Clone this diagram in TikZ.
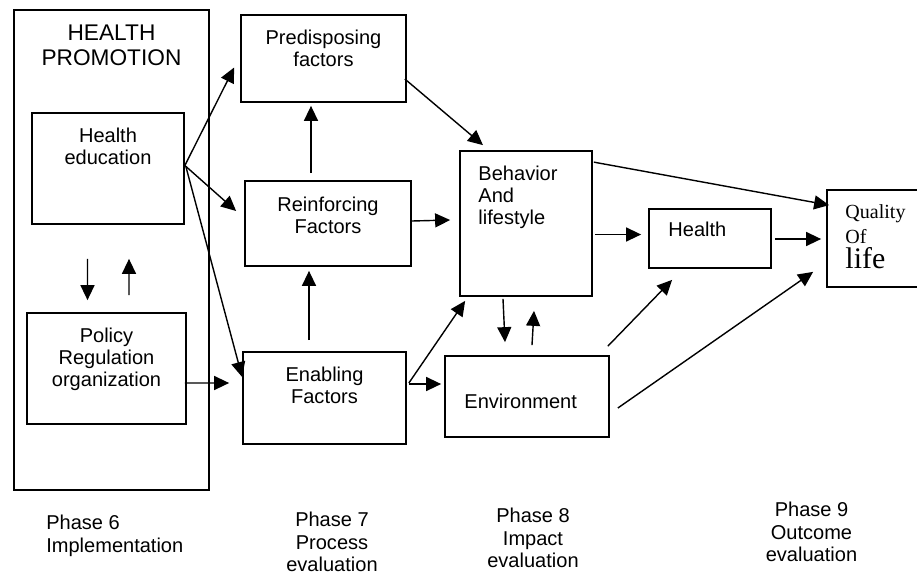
\documentclass[tikz,border=0pt]{standalone}
\usepackage{fontspec}
\setmainfont{Liberation Sans}
\newfontfamily\qualfont{Liberation Serif}
\usetikzlibrary{positioning,calc,arrows.meta}

\tikzset{
  box/.style={draw, line width=1pt, inner sep=0pt},
  txt/.style={inner sep=0pt, align=center, font=\fontsize{11.4}{12.8}\selectfont},
  arr/.style={-{Triangle[length=3mm,width=2.8mm]}, line width=0.8pt},
}

\begin{document}
\begin{tikzpicture}[x=0.02cm, y=-0.02cm]
        \useasboundingbox (0,0) rectangle (917,576);

        % boxes
        \node[box, minimum width=3.9cm, minimum height=9.6cm] (hp) at (111.5,250) {};
        \node[box, minimum width=3.04cm, minimum height=2.22cm] (he) at (108,168.5) {};
        \node[box, minimum width=3.18cm, minimum height=2.22cm] (po) at (106.5,368.5) {};
        \node[box, minimum width=3.3cm, minimum height=1.74cm] (pd) at (323.5,58.5) {};
        \node[box, minimum width=3.32cm, minimum height=1.7cm] (rf) at (328,223.5) {};
        \node[box, minimum width=3.26cm, minimum height=1.84cm] (en) at (324.5,398) {};
        \node[box, minimum width=2.64cm, minimum height=2.9cm] (bh) at (526,223.5) {};
        \node[box, minimum width=2.44cm, minimum height=1.18cm] (hl) at (710,238.5) {};
        \node[box, minimum width=3.28cm, minimum height=1.62cm] (ev) at (527,396.5) {};
        \node[box, minimum width=1.86cm, minimum height=1.94cm] (ql) at (873.5,238.5) {};

        % texts in the boxes
        \node[txt, font=\fontsize{12.9}{14.7}\selectfont, below=0.3cm of hp.north] (hpt) {HEALTH\\PROMOTION};
        \node[txt, below=0.3cm of he.north] (het) {Health\\education};
        \node[txt, below=0.3cm of po.north] (pot) {Policy\\Regulation\\organization};
        \node[txt, below=0.3cm of pd.north] (pdt) {Predisposing\\factors};
        \node[txt, below=0.32cm of rf.north] (rft) {Reinforcing\\Factors};
        \node[txt, below=0.3cm of en.north] (ent) {Enabling\\Factors};
        \node[txt, align=left, below right=0.3cm and 0.38cm of bh.north west] (bht) {Behavior\\And\\lifestyle};
        \node[txt, below right=0.28cm and 0.4cm of hl.north west] (hlt) {Health};
        \node[txt, below right=0.78cm and 0.4cm of ev.north west] (evt) {Environment};
        \node[txt, align=left, font=\qualfont\fontsize{11.4}{14.2}\selectfont,
              below right=0.3cm and 0.38cm of ql.north west] (qlt) {Quality\\Of\\{\fontsize{17}{18}\selectfont life}};

        % phases
        \node[txt, align=left, anchor=north west] (ph6) at (46,515) {Phase 6\\Implementation};
        \node[txt, anchor=north] (ph7) at (332,512) {Phase 7\\Process\\evaluation};
        \node[txt, anchor=north] (ph8) at (533,508) {Phase 8\\Impact\\evaluation};
        \node[txt, anchor=north] (ph9) at (811.5,502) {Phase 9\\Outcome\\evaluation};

        % arrows
        \draw[arr] ($(he.south)+(-20.5,34)$) -- ($(po.north)+(-19,-12)$);
        \draw[arr] ($(po.north)+(22.5,-17)$) -- ($(he.south)+(21,34)$);
        \draw[arr] ($(he.east)+(0,-3)$) -- ($(pd.west)+(-6,9)$);
        \draw[arr] ($(he.east)+(0,-3)$) -- ($(rf.west)+(-8,-12.5)$);
        \draw[arr] ($(he.east)+(1,-2)$) -- ($(en.west)+(0,-21)$);
        \draw[arr] ($(po.east)+(-2,14.5)$) -- ($(en.west)+(-13,-15)$);
        \draw[arr] ($(rf.north)+(-17,-7)$) -- ($(pd.south)+(-12.5,3)$);
        \draw[arr] ($(en.north)+(-15.5,-11)$) -- ($(rf.south)+(-19,4)$);
        \draw[arr] ($(rf.east)+(0,-2.5)$) -- ($(bh.west)+(-9,-3.5)$);
        \draw[arr] ($(pd.east)+(-2,20.5)$) -- ($(bh.north)+(-43,-5)$);
        \draw[arr] ($(en.east)+(2,-15)$) -- ($(bh.south west)+(6,4)$);
        \draw[arr] ($(en.east)+(2,-14)$) -- ($(ev.west)+(-3,-12.5)$);
        \draw[arr] ($(bh.south)+(-23,2)$) -- ($(ev.north)+(-22,-13)$);
        \draw[arr] ($(ev.north)+(5,-10)$) -- ($(bh.south)+(8,14)$);
        \draw[arr] ($(bh.east)+(2,11)$) -- ($(hl.west)+(-7,-4)$);
        \draw[arr] ($(hl.east)+(3,0.5)$) -- ($(ql.west)+(-5,0.5)$);
        \draw[arr] ($(bh.north east)+(1,12)$) -- ($(ql.north west)+(3,16)$);
        \draw[arr] ($(ev.north east)+(-2,-9)$) -- ($(hl.south west)+(24,11)$);
        \draw[arr] ($(ev.east)+(8,11.5)$) -- ($(ql.south west)+(-13,-16)$);
\end{tikzpicture}
\end{document}
